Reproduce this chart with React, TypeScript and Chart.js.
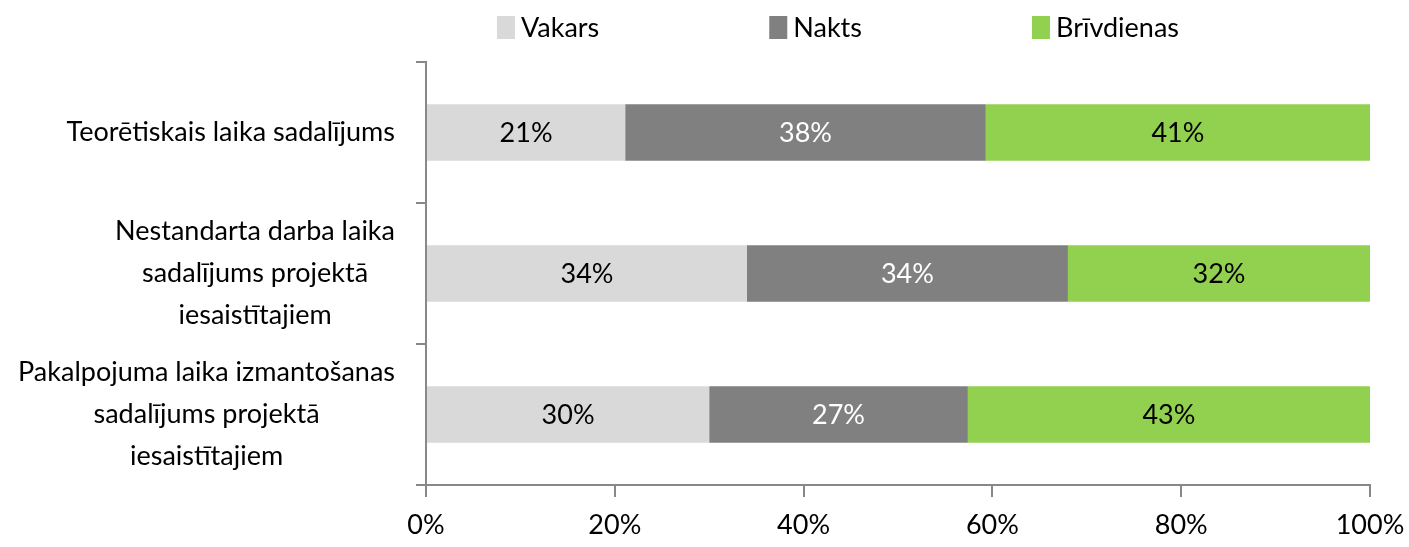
import React, { useEffect, useRef } from "react";
import { Chart, registerables } from "chart.js";

Chart.register(...registerables);

const categories: string[][] = [
  ["Teorētiskais laika sadalījums"],
  ["Nestandarta darba laika", "sadalījums projektā", "iesaistītajiem"],
  ["Pakalpojuma laika izmantošanas", "sadalījums projektā", "iesaistītajiem"],
];
const seriesNames = ["Vakars", "Nakts", "Brīvdienas"];
const vakars = [21.1, 34.0, 30.0];
const nakts = [38.2, 34.0, 27.4];
const brivdienas = [40.7, 32.0, 42.6];
const seriesColors = ["#d9d9d9", "#808080", "#92d050"];
const valueLabelColors = ["#000000", "#ffffff", "#000000"];
const xTickValues = [0, 20, 40, 60, 80, 100];

const FONT_FAMILY = "Lato, 'Liberation Sans', Arial, sans-serif";
const FONT_SIZE = 27;
const AXIS_COLOR = "#888888";

const fontStr = `${FONT_SIZE}px ${FONT_FAMILY}`;

const valueLabelsPlugin = {
  id: "valueLabels",
  afterDatasetsDraw(chart: any) {
    const ctx = chart.ctx;
    ctx.save();
    ctx.font = fontStr;
    ctx.textAlign = "center";
    ctx.textBaseline = "middle";
    chart.data.datasets.forEach((ds: any, i: number) => {
      const meta = chart.getDatasetMeta(i);
      meta.data.forEach((el: any, j: number) => {
        const p = el.getProps(["x", "y", "base"], true);
        const cx = (p.x + p.base) / 2;
        ctx.fillStyle = valueLabelColors[i];
        ctx.fillText(Math.round(ds.data[j]) + "%", cx, p.y + 1);
      });
    });
    ctx.restore();
  },
};

const categoryLabelsPlugin = {
  id: "categoryLabels",
  afterDraw(chart: any) {
    const ctx = chart.ctx;
    const yScale = chart.scales.y;
    const area = chart.chartArea;
    const lineHeight = 42;
    ctx.save();
    ctx.font = fontStr;
    ctx.fillStyle = "#000000";
    ctx.textAlign = "center";
    ctx.textBaseline = "middle";
    categories.forEach((lines, i) => {
      const yc = yScale.getPixelForValue(i);
      const maxW = Math.max(...lines.map((l) => ctx.measureText(l).width));
      const right = area.left - 31;
      const cx = right - maxW / 2;
      lines.forEach((l, j) => {
        const y = yc + (j - (lines.length - 1) / 2) * lineHeight;
        ctx.fillText(l, cx, y);
      });
    });
    ctx.restore();
  },
};

const legendPlugin = {
  id: "customLegend",
  afterDraw(chart: any) {
    const ctx = chart.ctx;
    const boxW = 18;
    const boxH = 23;
    const boxTop = 16;
    const textGap = 6;
    const itemGap = 170;
    ctx.save();
    ctx.font = fontStr;
    const widths = seriesNames.map((n) => ctx.measureText(n).width);
    const total =
      widths.reduce((a, w) => a + boxW + textGap + w, 0) + itemGap * (seriesNames.length - 1);
    let x = 838 - total / 2;
    ctx.textBaseline = "middle";
    ctx.textAlign = "left";
    seriesNames.forEach((n, i) => {
      ctx.fillStyle = seriesColors[i];
      ctx.fillRect(x, boxTop, boxW, boxH);
      ctx.fillStyle = "#000000";
      ctx.fillText(n, x + boxW + textGap, boxTop + boxH / 2 + 1);
      x += boxW + textGap + widths[i] + itemGap;
    });
    ctx.restore();
  },
};

export default function App() {
  const canvasRef = useRef<HTMLCanvasElement | null>(null);

  useEffect(() => {
    if (!canvasRef.current) return;
    const seriesValues = [vakars, nakts, brivdienas];
    const chart = new Chart(canvasRef.current, {
      type: "bar",
      data: {
        labels: categories,
        datasets: seriesNames.map((name, i) => ({
          label: name,
          data: seriesValues[i],
          backgroundColor: seriesColors[i],
          borderWidth: 0,
          barPercentage: 0.4,
          categoryPercentage: 1.0,
        })),
      },
      options: {
        indexAxis: "y",
        responsive: true,
        maintainAspectRatio: false,
        animation: false,
        layout: { padding: { top: 62, right: 39, left: 0, bottom: 0 } },
        plugins: {
          legend: { display: false },
          tooltip: { enabled: false },
        },
        scales: {
          x: {
            stacked: true,
            min: 0,
            max: 100,
            afterBuildTicks: (scale: any) => {
              scale.ticks = xTickValues.map((v) => ({ value: v }));
            },
            ticks: {
              callback: (v: any) => v + "%",
              font: { family: FONT_FAMILY, size: FONT_SIZE },
              color: "#000000",
              padding: 12,
              maxRotation: 0,
            },
            grid: {
              drawOnChartArea: false,
              drawTicks: true,
              tickLength: 12,
              color: AXIS_COLOR,
              lineWidth: 2,
            },
            border: { display: true, color: AXIS_COLOR, width: 2 },
            afterFit: (scale: any) => {
              scale.height = 62;
              scale.paddingLeft = 0;
              scale.paddingRight = 0;
            },
          },
          y: {
            stacked: true,
            ticks: { display: false },
            grid: {
              offset: true,
              drawOnChartArea: false,
              drawTicks: true,
              tickLength: 10,
              color: AXIS_COLOR,
              lineWidth: 2,
            },
            border: { display: true, color: AXIS_COLOR, width: 2 },
            afterFit: (scale: any) => {
              scale.width = 426;
            },
          },
        },
      },
      plugins: [valueLabelsPlugin, categoryLabelsPlugin, legendPlugin],
    } as any);
    return () => chart.destroy();
  }, []);

  return (
    <div style={{ position: "absolute", left: 0, top: 0, width: 1409, height: 547, background: "#ffffff" }}>
      <canvas ref={canvasRef} />
    </div>
  );
}
